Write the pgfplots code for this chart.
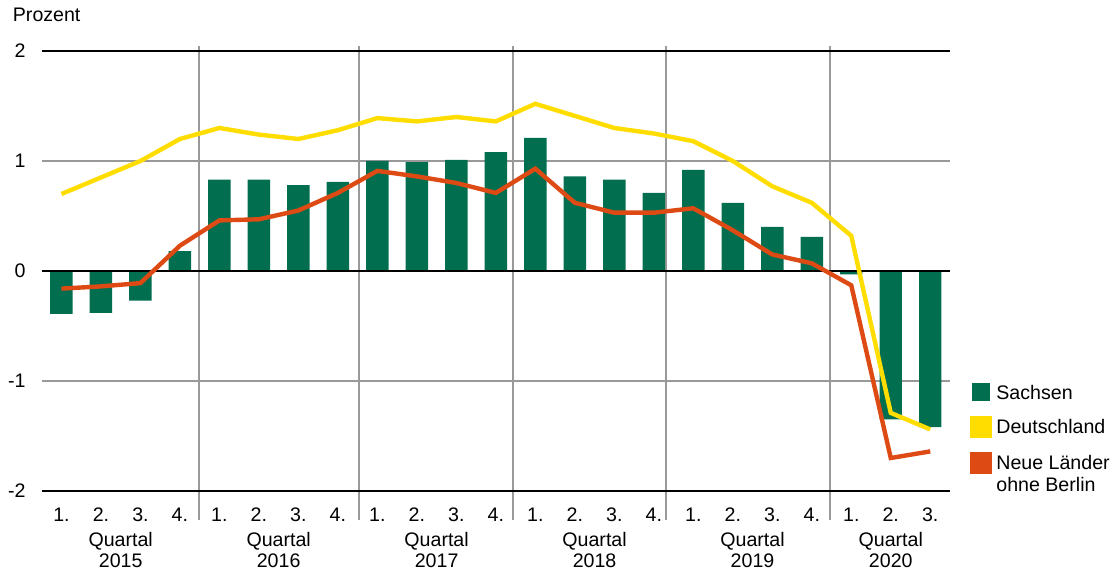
\documentclass[border=0pt]{standalone}
\usepackage{fontspec}
\setmainfont{Liberation Sans}
\usepackage{pgfplots}
\pgfplotsset{compat=1.18}

\definecolor{sachsen}{RGB}{0,110,79}
\definecolor{deutsch}{RGB}{255,221,0}
\definecolor{neue}{RGB}{221,74,20}
\definecolor{gridgray}{RGB}{153,153,153}

\pgfplotsset{
    sq legend/.style={
        legend image code/.code={\fill[##1] (0pt,-1.15pt) rectangle (9pt,7.85pt);}
    }
}

% Veraenderung gegenueber Vorjahresquartal, 2015 Q1 bis 2020 Q3
\pgfplotstableread{
idx sachsen deutsch neue
0  -0.39  0.70  -0.16
1  -0.38  0.85  -0.14
2  -0.27  1.00  -0.11
3   0.18  1.20   0.23
4   0.83  1.30   0.46
5   0.83  1.24   0.47
6   0.78  1.20   0.55
7   0.81  1.28   0.71
8   1.00  1.39   0.91
9   0.99  1.36   0.86
10  1.01  1.40   0.80
11  1.08  1.36   0.71
12  1.21  1.52   0.93
13  0.86  1.41   0.62
14  0.83  1.30   0.53
15  0.71  1.25   0.53
16  0.92  1.18   0.57
17  0.62  1.00   0.37
18  0.40  0.77   0.15
19  0.31  0.62   0.07
20 -0.03  0.32  -0.13
21 -1.35 -1.29  -1.70
22 -1.42 -1.44  -1.64
}\datatable

\begin{document}
\begin{tikzpicture}[font=\fontsize{9.8}{10.85}\selectfont]
\begin{axis}[
    scale only axis,
    width=454.15pt, height=220pt,
    xmin=-0.5, xmax=22.5,
    ymin=-2, ymax=2,
    clip=false,
    axis line style={draw=none},
    tick style={draw=none},
    ytick={-2,-1,0,1,2},
    yticklabels={-2,-1,0,1,2},
    yticklabel style={anchor=east, inner sep=0pt, xshift=-7.85pt},
    xtick={0,...,22},
    xticklabels={1.,2.,3.,4.,1.,2.,3.,4.,1.,2.,3.,4.,1.,2.,3.,4.,1.,2.,3.,4.,1.,2.,3.},
    xticklabel style={anchor=base, inner sep=0pt, yshift=-15.35pt},
    ymajorgrids,
    grid style={gridgray, line width=1pt},
    legend style={at={(1.022,0.25)}, anchor=north west, draw=none, fill=none,
        inner sep=0pt, outer sep=0pt, row sep=4.75pt,
        cells={anchor=base west, inner xsep=5pt, inner ysep=0pt}},
]

% Trennlinien zwischen den Jahren
\foreach \s in {3.48,7.53,11.43,15.31,19.47}{
    \edef\tmp{\noexpand\draw[gridgray, line width=1pt] (axis cs:\s,2.045) -- (axis cs:\s,-2.264);}
    \tmp
}

\addplot[ybar, bar width=0.568, bar shift=0pt, fill=sachsen, draw=none, sq legend]
    table[x=idx, y=sachsen] {\datatable};
\addlegendentry{Sachsen}

% schwarze Linien bei 2, 0, -2
\draw[black, line width=1pt] (rel axis cs:0,1) -- (rel axis cs:1,1);
\draw[black, line width=1pt] (rel axis cs:0,0.5) -- (rel axis cs:1,0.5);
\draw[black, line width=1pt] (rel axis cs:0,0) -- (rel axis cs:1,0);

\addplot[sharp plot, color=deutsch, line width=2.2pt, mark=none, sq legend]
    table[x=idx, y=deutsch] {\datatable};
\addlegendentry{Deutschland}

\addplot[sharp plot, color=neue, line width=2.2pt, mark=none, sq legend]
    table[x=idx, y=neue] {\datatable};
\addlegendentry{\begin{tabular}[t]{@{}l@{}}Neue Länder\\ohne Berlin\end{tabular}}

\node[anchor=base west, inner sep=0pt, xshift=-14.6pt, yshift=14.65pt]
    at (rel axis cs:0,1) {Prozent};

\node[anchor=north, align=center, inner sep=0pt, yshift=-20.35pt] at (axis cs:1.5,-2) {Quartal\\2015};
\node[anchor=north, align=center, inner sep=0pt, yshift=-20.35pt] at (axis cs:5.5,-2) {Quartal\\2016};
\node[anchor=north, align=center, inner sep=0pt, yshift=-20.35pt] at (axis cs:9.5,-2) {Quartal\\2017};
\node[anchor=north, align=center, inner sep=0pt, yshift=-20.35pt] at (axis cs:13.5,-2) {Quartal\\2018};
\node[anchor=north, align=center, inner sep=0pt, yshift=-20.35pt] at (axis cs:17.5,-2) {Quartal\\2019};
\node[anchor=north, align=center, inner sep=0pt, yshift=-20.35pt] at (axis cs:21,-2) {Quartal\\2020};
\end{axis}
\pgfresetboundingbox
\path[use as bounding box] (-20.85pt,-40pt) rectangle (536.15pt,245.5pt);
\end{tikzpicture}
\end{document}
